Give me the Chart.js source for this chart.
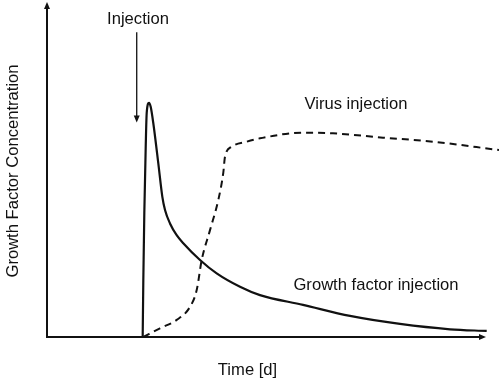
<!DOCTYPE html>
<html>
<head>
<meta charset="utf-8">
<script src="https://cdn.jsdelivr.net/npm/chart.js@4/dist/chart.umd.min.js"></script>
<style>
html,body{margin:0;padding:0;background:#fff;}
#wrap{width:499px;height:381px;position:relative;}
</style>
</head>
<body>
<div id="wrap"><canvas id="c" width="499" height="381"></canvas></div>
<script>
// Growth factor injection (solid)
const solidTime = [2.117,2.131,2.153,2.184,2.206,2.257,2.294,2.352,2.462,2.551,2.611,2.721,2.869,3.015,3.385,3.754,4.270,4.712,5.664,6.704,7.810,8.917,9.728];
const solidConc = [0,17.0,37.0,56.8,66.9,69.9,68.7,63.8,51.9,41.9,37.9,33.9,30.4,28.0,23.0,19.0,15.0,12.5,9.6,6.3,3.9,2.3,1.8];
// Virus injection (dashed)
const dashedTime = [2.131,2.500,2.869,3.164,3.312,3.423,3.606,3.790,3.900,3.938,4.086,4.418,4.712,5.664,6.327,7.434,8.540,10.0];
const dashedConc = [0,2.6,5.1,9.0,14.0,23.0,31.9,40.9,49.0,53.8,56.8,58.3,59.3,61.0,60.8,59.5,58.3,55.8];

const xLabel = "Time [d]";
const yLabel = "Growth Factor Concentration";
const injectionLabel = "Injection";
const virusLabel = "Virus injection";
const growthLabel = "Growth factor injection";

const FONT = '16.6px "Liberation Sans", Arial, sans-serif';

function pts(xs, ys){ return xs.map((x,i)=>({x:x, y:ys[i]})); }

function arrowHead(ctx, x, y, dir, len, half){
  ctx.beginPath();
  if(dir==='up'){ ctx.moveTo(x,y); ctx.lineTo(x-half,y+len); ctx.lineTo(x+half,y+len); }
  else if(dir==='down'){ ctx.moveTo(x,y); ctx.lineTo(x-half,y-len); ctx.lineTo(x+half,y-len); }
  else { ctx.moveTo(x,y); ctx.lineTo(x-len,y-half); ctx.lineTo(x-len,y+half); }
  ctx.closePath(); ctx.fill();
}

const decor = {
  id:'decor',
  afterDatasetsDraw(chart){
    const ctx = chart.ctx, xs = chart.scales.x, ys = chart.scales.y, ca = chart.chartArea;
    ctx.save();
    ctx.strokeStyle = '#111'; ctx.fillStyle = '#111';
    // axes
    const x0 = xs.getPixelForValue(0), y0 = ys.getPixelForValue(0);
    const xEnd = xs.getPixelForValue(9.712), yTop = ys.getPixelForValue(100);
    ctx.lineWidth = 2;
    ctx.beginPath(); ctx.moveTo(x0, y0); ctx.lineTo(x0, yTop+5); ctx.stroke();
    ctx.beginPath(); ctx.moveTo(x0-1, y0); ctx.lineTo(xEnd-5, y0); ctx.stroke();
    arrowHead(ctx, x0, yTop, 'up', 7, 3);
    arrowHead(ctx, xEnd, y0, 'right', 7, 3);
    // injection arrow
    const ax = xs.getPixelForValue(1.985);
    const ay1 = ys.getPixelForValue(91.0), ay2 = ys.getPixelForValue(64.0);
    ctx.lineWidth = 1.3;
    ctx.beginPath(); ctx.moveTo(ax, ay1); ctx.lineTo(ax, ay2-6); ctx.stroke();
    arrowHead(ctx, ax, ay2, 'down', 7, 3);
    // texts
    ctx.font = FONT; ctx.textAlign = 'center'; ctx.textBaseline = 'middle';
    ctx.fillText(injectionLabel, xs.getPixelForValue(2.013), ys.getPixelForValue(94.9));
    ctx.fillText(virusLabel, xs.getPixelForValue(6.836), ys.getPixelForValue(69.3));
    ctx.fillText(growthLabel, xs.getPixelForValue(7.279), ys.getPixelForValue(15.5));
    ctx.fillText(xLabel, xs.getPixelForValue(4.436), ca.bottom + 33);
    ctx.save();
    ctx.translate(13.5, (ca.top + ca.bottom)/2 + 1.5);
    ctx.rotate(-Math.PI/2);
    ctx.fillText(yLabel, 0, 0);
    ctx.restore();
    ctx.restore();
  }
};

new Chart(document.getElementById('c'), {
  type: 'line',
  data: {
    datasets: [
      { label: growthLabel, data: pts(solidTime, solidConc), borderColor:'#111', borderWidth:2.2,
        pointRadius:0, cubicInterpolationMode:'monotone', fill:false, clip:false },
      { label: virusLabel, data: pts(dashedTime, dashedConc), borderColor:'#111', borderWidth:2,
        borderDash:[7,5], pointRadius:0, cubicInterpolationMode:'monotone', fill:false, clip:false }
    ]
  },
  options: {
    responsive:false, animation:false, devicePixelRatio:1,
    layout:{ padding:{ left:47, right:0, top:2, bottom:44 } },
    plugins:{ legend:{display:false}, tooltip:{enabled:false} },
    scales:{
      x:{ type:'linear', min:0, max:10, display:false },
      y:{ type:'linear', min:0, max:100, display:false }
    }
  },
  plugins:[decor]
});
</script>
</body>
</html>
